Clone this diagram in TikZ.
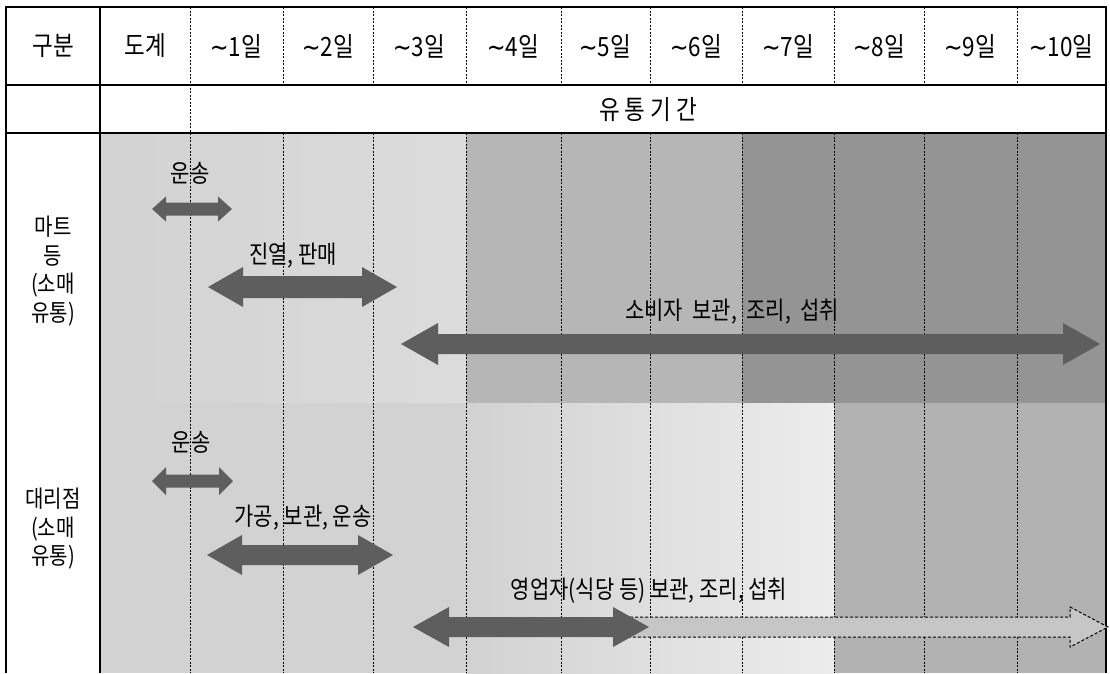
\documentclass[tikz,border=0pt]{standalone}
\usepackage{fontspec}
\usepackage{graphicx}
\setmainfont{Noto Sans CJK KR}
\newfontfamily\symFont{DejaVu Sans}
\definecolor{bgLight}{HTML}{D2D2D2}
\definecolor{bgLightB}{HTML}{DCDCDC}
\definecolor{bgMid}{HTML}{B6B6B6}
\definecolor{bgDark}{HTML}{949494}
\definecolor{bgPale}{HTML}{E4E4E4}
\definecolor{bgPaleB}{HTML}{ECECEC}
\definecolor{bgRight}{HTML}{B2B2B2}
\definecolor{arrowGray}{HTML}{5E5E5E}
\definecolor{dashFill}{HTML}{C6C6C6}
\newcommand\dayTilde{{\symFont\char"223C\relax}}
\newcommand\tallTxt[1]{\scalebox{1}[1.18]{#1}}
\newcommand\DArrow[7]{%
  \path[#1] (#2,#4) -- ({#2+#7},{#4-#6}) -- ({#2+#7},{#4-#5}) -- ({#3-#7},{#4-#5})
    -- ({#3-#7},{#4-#6}) -- (#3,#4) -- ({#3-#7},{#4+#6}) -- ({#3-#7},{#4+#5})
    -- ({#2+#7},{#4+#5}) -- ({#2+#7},{#4+#6}) -- cycle;}
\begin{document}
\begin{tikzpicture}[x=1pt,y=-1pt,
  hdr/.style={font=\fontsize{22.5}{26}\selectfont, inner sep=0pt},
  lbl/.style={font=\fontsize{21}{25}\selectfont, inner sep=0pt},
  side/.style={font=\fontsize{20}{27}\selectfont, align=center, inner sep=0pt},
  gridline/.style={line width=1.3pt, black},
  dgrid/.style={line width=0.9pt, black, dash pattern=on 2pt off 1.5pt},
  blk/.style={fill=arrowGray, draw=none},
  dblk/.style={fill=dashFill, draw=black, line width=1pt, dash pattern=on 3pt off 2pt}]
\useasboundingbox (0,0) rectangle (1110,673);
\fill[white] (0,0) rectangle (1110,673);
% backgrounds
\shade[left color=bgLight, right color=bgLightB] (100,133) rectangle (466,403);
\fill[bgMid] (466,133) rectangle (742,403);
\fill[bgDark] (742,133) rectangle (1106,403);
\fill[bgLight] (100,403) rectangle (466,673);
\shade[left color=bgPale!92!black, right color=bgPaleB] (466,403) rectangle (834,673);
\fill[bgRight] (834,403) rectangle (1106,673);
% dashed grid lines
\draw[dgrid] (190,7) -- (190,673);
\foreach \x in {283,373,466,561,650,742,834,924,1017} {
  \draw[dgrid] (\x,7) -- (\x,85);
  \draw[dgrid] (\x,133) -- (\x,673);
}
% solid grid
\draw[gridline] (6,673) -- (6,7) -- (1106,7) -- (1106,673);
\draw[gridline] (100,7) -- (100,673);
\draw[gridline] (6,85) -- (1106,85);
\draw[gridline] (6,133) -- (1106,133);
% header texts
\node[hdr] (h0) at (53,46) {\tallTxt{구분}};
\node[hdr] (h1) at (145,46) {\tallTxt{도계}};
\node[hdr] (d1) at (236,46) {\tallTxt{\dayTilde 1일}};
\node[hdr] (d2) at (328,46) {\tallTxt{\dayTilde 2일}};
\node[hdr] (d3) at (419,46) {\tallTxt{\dayTilde 3일}};
\node[hdr] (d4) at (513,46) {\tallTxt{\dayTilde 4일}};
\node[hdr] (d5) at (605,46) {\tallTxt{\dayTilde 5일}};
\node[hdr] (d6) at (696,46) {\tallTxt{\dayTilde 6일}};
\node[hdr] (d7) at (788,46) {\tallTxt{\dayTilde 7일}};
\node[hdr] (d8) at (879,46) {\tallTxt{\dayTilde 8일}};
\node[hdr] (d9) at (970,46) {\tallTxt{\dayTilde 9일}};
\node[hdr] (d10) at (1061,46) {\tallTxt{\dayTilde 10일}};
\node[hdr] (period) at (648,110) {\tallTxt{유 통 기 간}};
% side labels
\node[side] (mart) at (53,271) {\tallTxt{마트}\\[1.5pt]\tallTxt{등}\\[1.5pt]\tallTxt{(소매}\\[1.5pt]\tallTxt{유통)}};
\node[side] (agency) at (53,529) {\tallTxt{대리점}\\[1.5pt]\tallTxt{(소매}\\[1.5pt]\tallTxt{유통)}};
% arrows
\DArrow{blk}{152}{232}{209}{6.5}{12.5}{14}
\DArrow{blk}{208}{397}{287}{11}{20}{35}
\DArrow{blk}{401}{1100}{344}{10}{21}{37}
\DArrow{blk}{152}{233}{481}{6.5}{14}{14}
\DArrow{blk}{207}{393}{555}{10}{20}{35}
\path[dblk] (620,617) -- (1070,617) -- (1070,607) -- (1108,627) -- (1070,647) -- (1070,637) -- (620,637) -- cycle;
\DArrow{blk}{413}{649}{627}{10}{20}{36}
% arrow labels
\node[lbl] (t1) at (190,173) {\tallTxt{운송}};
\node[lbl] (t2) at (293,256) {\tallTxt{진열, 판매}};
\node[lbl] (t3) at (732,312) {\tallTxt{소비자\ \ 보관,\ \ 조리,\ \ 섭취}};
\node[lbl] (t4) at (191,442) {\tallTxt{운송}};
\node[lbl] (t5) at (303,518) {\tallTxt{가공, 보관, 운송}};
\node[lbl] (t6) at (649,591) {\tallTxt{영업자(식당\ 등)\ 보관,\ 조리,\ 섭취}};
\end{tikzpicture}
\end{document}
